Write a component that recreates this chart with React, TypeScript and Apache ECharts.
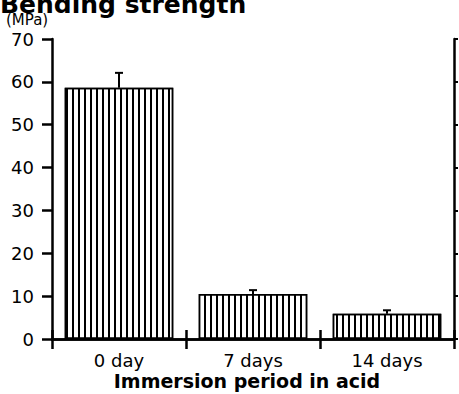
import React, { useEffect, useRef } from "react";
import * as echarts from "echarts";

const categories = ["0 day", "7 days", "14 days"];
const strengthMeans = [58.6, 10.5, 5.9];
const strengthErrorTops = [62.1, 11.4, 6.7];
const yTicks = [0, 10, 20, 30, 40, 50, 60, 70];

const FONT = "'DejaVu Sans', 'Liberation Sans', Arial, sans-serif";

export default function App() {
  const ref = useRef<HTMLDivElement>(null);
  useEffect(() => {
    if (!ref.current) return;
    const chart = echarts.init(ref.current, null, { renderer: "svg" });
    const errData = categories.map((c, i) => [i, strengthMeans[i], strengthErrorTops[i]]);
    chart.setOption({
      animation: false,
      backgroundColor: "#fff",
      textStyle: { fontFamily: FONT, color: "#000" },
      grid: { left: 52, right: 5, top: 39, bottom: 55, outerBoundsMode: "none", containLabel: false },
      graphic: [
        {
          type: "text",
          left: 0,
          top: -8,
          style: { text: "Bending strength", font: `bold 25px ${FONT}`, fill: "#000", lineHeight: 18 },
        },
        {
          type: "text",
          left: 6,
          top: 12,
          style: { text: "(MPa)", font: `15px ${FONT}`, fill: "#000" },
        },
      ],
      xAxis: [
        {
          type: "category",
          data: categories,
          position: "bottom",
          axisLine: { lineStyle: { color: "#000", width: 2.5 } },
          axisTick: { show: true, inside: false, length: 10, lineStyle: { color: "#000", width: 2.5 } },
          axisLabel: { color: "#000", fontSize: 18, fontFamily: FONT, margin: 13, lineHeight: 16 },
          name: "Immersion period in acid",
          nameLocation: "middle",
          nameGap: 32,
          nameMoveOverlap: false,
          nameTextStyle: { color: "#000", fontSize: 19, fontWeight: "bold", fontFamily: FONT, lineHeight: 19, padding: [0, 12, 0, 0] },
        },
        {
          type: "category",
          data: categories,
          position: "top",
          axisLine: { lineStyle: { color: "#000", width: 2.5 } },
          axisTick: { show: true, inside: false, length: 9, lineStyle: { color: "#000", width: 2.5 } },
          axisLabel: { show: false },
        },
      ],
      yAxis: [
        {
          type: "value",
          min: 0,
          max: 70,
          interval: 10,
          position: "left",
          axisLine: { show: true, lineStyle: { color: "#000", width: 2.5 } },
          axisTick: { show: true, inside: false, length: 10, lineStyle: { color: "#000", width: 2.5 } },
          axisLabel: {
            color: "#000",
            fontSize: 18,
            fontFamily: FONT,
            margin: 18,
            formatter: (v: number) => (yTicks.includes(v) ? String(v) : ""),
          },
          splitLine: { show: false },
        },
        {
          type: "value",
          min: 0,
          max: 70,
          interval: 10,
          position: "right",
          axisLine: { show: true, lineStyle: { color: "#000", width: 2.5 } },
          axisTick: { show: true, inside: false, length: 4, lineStyle: { color: "#000", width: 2 } },
          axisLabel: { show: false },
          splitLine: { show: false },
        },
      ],
      series: [
        {
          type: "bar",
          data: strengthMeans,
          xAxisIndex: 0,
          yAxisIndex: 0,
          barCategoryGap: "19%",
          itemStyle: {
            color: "#fff",
            borderColor: "#000",
            borderWidth: 1.5,
            decal: {
              symbol: "rect",
              symbolSize: 1,
              color: "#000",
              dashArrayX: [1.6, 3.4],
              dashArrayY: [4, 0],
              rotation: 0,
            },
          },
        },
        {
          type: "custom",
          xAxisIndex: 0,
          yAxisIndex: 0,
          data: errData,
          encode: { x: 0, y: [1, 2] },
          renderItem: (params: any, api: any) => {
            const x = api.value(0);
            const lo = api.coord([x, api.value(1)]);
            const hi = api.coord([x, api.value(2)]);
            const st = { stroke: "#000", lineWidth: 2 };
            return {
              type: "group",
              children: [
                { type: "line", shape: { x1: lo[0], y1: lo[1], x2: hi[0], y2: hi[1] }, style: st },
                { type: "line", shape: { x1: hi[0] - 4, y1: hi[1], x2: hi[0] + 4, y2: hi[1] }, style: st },
              ],
            };
          },
          z: 5,
        },
      ],
    });
    return () => chart.dispose();
  }, []);
  return <div ref={ref} style={{ width: 459, height: 394, position: "absolute", left: 0, top: 0 }} />;
}
